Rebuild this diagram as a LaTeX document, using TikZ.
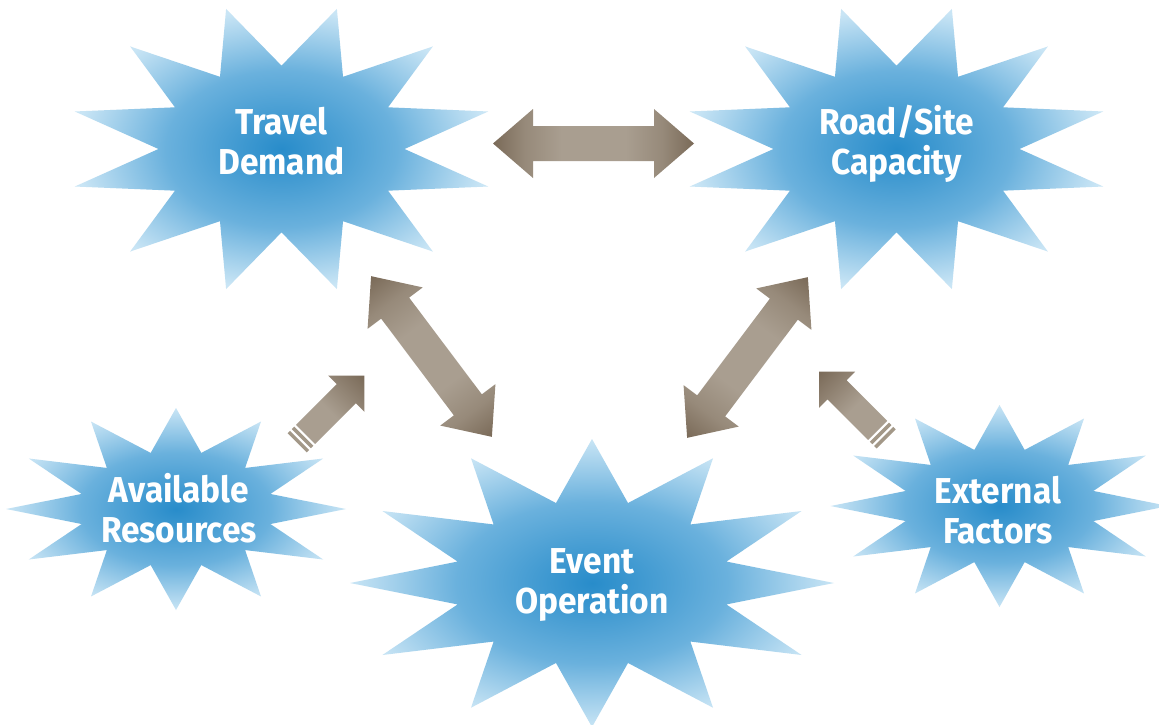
\documentclass[tikz,border=0pt]{standalone}
\usepackage{fontspec}
\newfontfamily\lblfont[FakeStretch=0.93]{Fira Sans}
\definecolor{stc}{HTML}{288CCA}
\definecolor{stm}{HTML}{6AB1DD}
\definecolor{ste}{HTML}{C9E5F5}
\definecolor{arrdk}{HTML}{7A6A58}
\definecolor{arrmd}{HTML}{978A7A}
\definecolor{arrlt}{HTML}{A99E90}
\definecolor{stripe}{HTML}{A39888}
\pgfdeclareradialshading{starshade}{\pgfpoint{0bp}{0bp}}{color(0bp)=(stc); color(14bp)=(stm); color(25bp)=(ste); color(50bp)=(ste)}
\pgfdeclarehorizontalshading{dblshade}{100bp}{color(0bp)=(arrdk); color(25bp)=(arrdk); color(33bp)=(arrmd); color(42bp)=(arrlt); color(58bp)=(arrlt); color(67bp)=(arrmd); color(75bp)=(arrdk); color(100bp)=(arrdk)}
\pgfdeclarehorizontalshading{oneshade}{100bp}{color(0bp)=(arrlt); color(25bp)=(arrlt); color(45bp)=(arrlt); color(75bp)=(arrdk); color(100bp)=(arrdk)}
\newcommand\burst[6]{%
  \coordinate (#1) at (#2,#3);
  \shade[shading=starshade] plot[samples at={0,...,23}, variable=\k]
    ({#2+#4*(1-0.425*mod(\k,2))*cos(#6+15*\k)}, {#3+#5*(1-0.425*mod(\k,2))*sin(#6+15*\k)}) -- cycle;}
\newcommand\dblarrow[2]{%
  \begin{scope}[transform canvas={shift={(#1)},rotate=#2}]
    \shade[shading=dblshade] (-100.5,0) -- (-60.5,34.5) -- (-60.5,17.5) -- (60.5,17.5) -- (60.5,34.5)
      -- (100.5,0) -- (60.5,-34.5) -- (60.5,-17.5) -- (-60.5,-17.5) -- (-60.5,-34.5) -- cycle;
  \end{scope}}
\newcommand\onearrow[2]{%
  \begin{scope}[transform canvas={shift={(#1)},rotate=#2}]
    \shade[shading=oneshade] (0,0) -- (-25.5,25.5) -- (-25.5,13.5) -- (-83,13.5) -- (-83,-13.5)
      -- (-25.5,-13.5) -- (-25.5,-25.5) -- cycle;
    \fill[stripe] (-85.5,-13.5) rectangle (-89,13.5);
    \fill[stripe] (-91.5,-13.5) rectangle (-95,13.5);
  \end{scope}}
\tikzset{lbl/.style={text=white, font=\lblfont\bfseries\fontsize{36}{40}\selectfont,
  align=center, anchor=base, inner sep=0pt}}
\begin{document}
\begin{tikzpicture}[x=1pt,y=-1pt]
\useasboundingbox (0,0) rectangle (1159,725);
\clip (0,0) rectangle (1159,725);
\fill[white] (0,0) rectangle (1159,725);
% stars
\burst{sTravel}{281.5}{149}{214}{145}{15}
\burst{sRoad}{896.5}{149}{214}{145}{15}
\burst{sEvent}{592}{583}{242}{144}{0}
\burst{sAvail}{176}{509}{170}{101}{0}
\burst{sExt}{999.5}{506}{169}{101}{0}
% arrows
\coordinate (aTop) at (593.5,143.5);
\coordinate (aLeft) at (431.5,356.5);
\coordinate (aRight) at (747.5,357.5);
\coordinate (tAvail) at (364.3,375.7);
\coordinate (tExt) at (819,371.7);
\dblarrow{aTop}{0}
\dblarrow{aLeft}{-53.07}
\dblarrow{aRight}{53.07}
\onearrow{tAvail}{45}
\onearrow{tExt}{135}
% labels
\node[lbl] (travel) at (281.5,174) {Travel\\Demand};
\node[lbl] (road) at (896.5,174) {Road/Site\\Capacity};
\node[lbl] (event) at (592,613) {Event\\Operation};
\node[lbl] (avail) at (179,542) {Available\\Resources};
\node[lbl] (ext) at (998,543) {External\\Factors};
\end{tikzpicture}
\end{document}
